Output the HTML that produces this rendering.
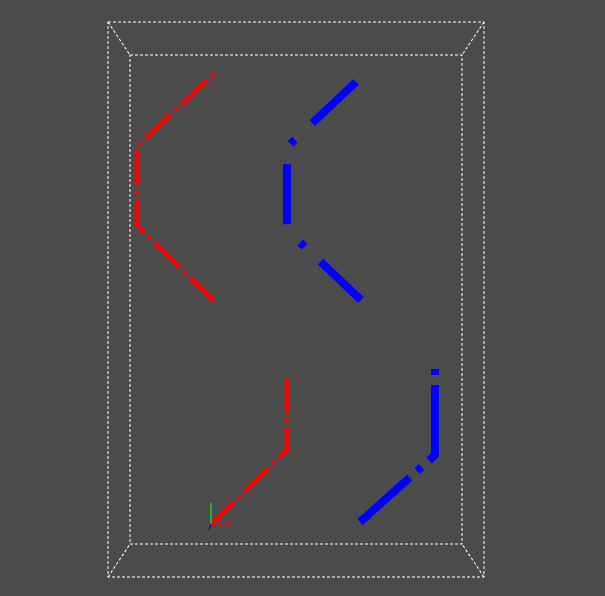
<!DOCTYPE html>
<html><head><meta charset="utf-8"><style>
html,body{margin:0;padding:0;background:#4b4b4b;width:605px;height:596px;overflow:hidden}
</style></head><body>
<svg id="c" width="605" height="596" xmlns="http://www.w3.org/2000/svg" style="display:block">
<rect width="605" height="596" fill="#4b4b4b"/>
<g id="box" fill="none" stroke="#ffffff" stroke-width="1" stroke-dasharray="3 2"></g>
<g id="series"></g>
<g>
<line x1="211" y1="524" x2="211" y2="503" stroke="#00ff00" stroke-width="1.2"/>
<line x1="211" y1="524" x2="231" y2="524" stroke="#ff0000" stroke-width="1.2"/>
<line x1="211" y1="524" x2="209" y2="530" stroke="#0000ff" stroke-width="1.2"/>
</g>
</svg>
<script>
const outerBox=[108,22,484,577];
const innerBox=[130,55,462,544];
const redTopX=[213,137,137,213];
const redTopY=[75,147,225,300];
const blueTopX=[356,287,287,361];
const blueTopY=[82,147,230,300];
const redBotX=[287,287,211];
const redBotY=[377,450,525];
const blueBotX=[435,435,360];
const blueBotY=[368,455,522];
const NS="http://www.w3.org/2000/svg";
const box=document.getElementById('box');
function ln(g,x1,y1,x2,y2){const l=document.createElementNS(NS,'line');l.setAttribute('x1',x1);l.setAttribute('y1',y1);l.setAttribute('x2',x2);l.setAttribute('y2',y2);g.appendChild(l);return l;}
function rect(g,b){const r=document.createElementNS(NS,'rect');r.setAttribute('x',b[0]);r.setAttribute('y',b[1]);r.setAttribute('width',b[2]-b[0]);r.setAttribute('height',b[3]-b[1]);g.appendChild(r);}
rect(box,outerBox);rect(box,innerBox);
ln(box,outerBox[0],outerBox[1],innerBox[0],innerBox[1]);
ln(box,outerBox[2],outerBox[1],innerBox[2],innerBox[1]);
ln(box,outerBox[0],outerBox[3],innerBox[0],innerBox[3]);
ln(box,outerBox[2],outerBox[3],innerBox[2],innerBox[3]);
const sg=document.getElementById('series');
function poly(xs,ys,color,w,dash,off,cap,name){
  const p=document.createElementNS(NS,'polyline');
  p.setAttribute('points',xs.map((x,i)=>x+','+ys[i]).join(' '));
  p.setAttribute('fill','none');p.setAttribute('stroke',color);p.setAttribute('stroke-width',w);
  p.setAttribute('stroke-dasharray',dash);p.setAttribute('stroke-dashoffset',off);
  p.setAttribute('stroke-linecap',cap);p.setAttribute('stroke-linejoin','round');
  
  
  sg.appendChild(p);
}
poly(redTopX,redTopY,'#ff0000',4.5,'0.1 9 32 9',0,'round','red-line-top');
poly(redBotX,redBotY,'#ff0000',4.5,'0.1 9 30 9',5,'round','red-line-bottom');
poly(blueTopX,blueTopY,'#0000ff',8,'60 24 6 22',0,'butt','blue-line-top');
poly(blueBotX,blueBotY,'#0000ff',8,'78 10 6 10',87,'butt','blue-line-bottom');
</script>
</body></html>
